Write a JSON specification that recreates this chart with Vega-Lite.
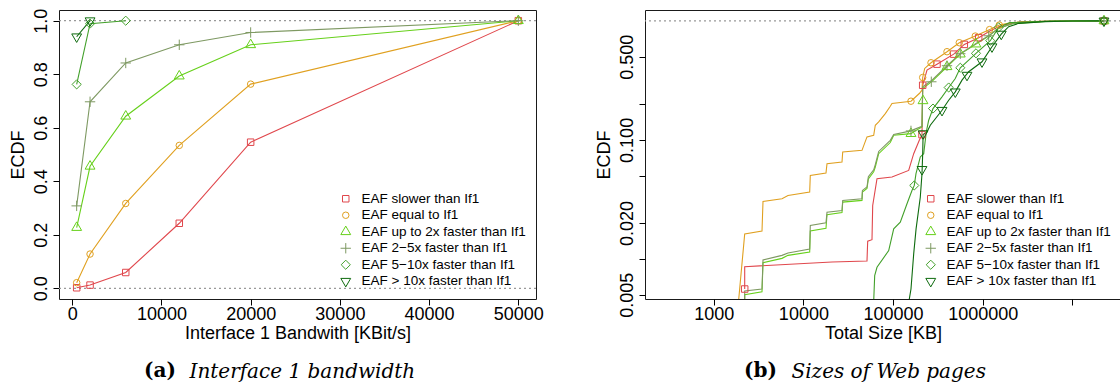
{
  "$schema": "https://vega.github.io/schema/vega-lite/v6.json",
  "background": "white",
  "padding": {"left": 8, "top": 7, "right": 0, "bottom": 0},
  "datasets": {
    "bw": [
      {"s": "EAF slower than If1", "x": 500, "y": 0.002},
      {"s": "EAF slower than If1", "x": 2000, "y": 0.012},
      {"s": "EAF slower than If1", "x": 6000, "y": 0.059},
      {"s": "EAF slower than If1", "x": 12000, "y": 0.243},
      {"s": "EAF slower than If1", "x": 20000, "y": 0.546},
      {"s": "EAF slower than If1", "x": 50000, "y": 1.0},
      {"s": "EAF equal to If1", "x": 500, "y": 0.021},
      {"s": "EAF equal to If1", "x": 2000, "y": 0.128},
      {"s": "EAF equal to If1", "x": 6000, "y": 0.317},
      {"s": "EAF equal to If1", "x": 12000, "y": 0.534},
      {"s": "EAF equal to If1", "x": 20000, "y": 0.763},
      {"s": "EAF equal to If1", "x": 50000, "y": 1.0},
      {"s": "EAF up to 2x faster than If1", "x": 500, "y": 0.227},
      {"s": "EAF up to 2x faster than If1", "x": 2000, "y": 0.456},
      {"s": "EAF up to 2x faster than If1", "x": 6000, "y": 0.643},
      {"s": "EAF up to 2x faster than If1", "x": 12000, "y": 0.793},
      {"s": "EAF up to 2x faster than If1", "x": 20000, "y": 0.91},
      {"s": "EAF up to 2x faster than If1", "x": 50000, "y": 1.0},
      {"s": "EAF 2−5x faster than If1", "x": 500, "y": 0.308},
      {"s": "EAF 2−5x faster than If1", "x": 2000, "y": 0.697},
      {"s": "EAF 2−5x faster than If1", "x": 6000, "y": 0.842},
      {"s": "EAF 2−5x faster than If1", "x": 12000, "y": 0.91},
      {"s": "EAF 2−5x faster than If1", "x": 20000, "y": 0.956},
      {"s": "EAF 2−5x faster than If1", "x": 50000, "y": 1.0},
      {"s": "EAF 5−10x faster than If1", "x": 500, "y": 0.762},
      {"s": "EAF 5−10x faster than If1", "x": 2000, "y": 0.989},
      {"s": "EAF 5−10x faster than If1", "x": 6000, "y": 1.0},
      {"s": "EAF > 10x faster than If1", "x": 500, "y": 0.94},
      {"s": "EAF > 10x faster than If1", "x": 2000, "y": 1.0}
    ],
    "web": [
      {"s": "EAF slower than If1", "x": 2216, "y": 0.00558},
      {"s": "EAF slower than If1", "x": 2216, "y": 0.0086},
      {"s": "EAF slower than If1", "x": 20840, "y": 0.0094},
      {"s": "EAF slower than If1", "x": 51170, "y": 0.0096},
      {"s": "EAF slower than If1", "x": 52100, "y": 0.0141},
      {"s": "EAF slower than If1", "x": 58190, "y": 0.0145},
      {"s": "EAF slower than If1", "x": 59240, "y": 0.0281},
      {"s": "EAF slower than If1", "x": 66150, "y": 0.0472},
      {"s": "EAF slower than If1", "x": 97210, "y": 0.0488},
      {"s": "EAF slower than If1", "x": 149200, "y": 0.0554},
      {"s": "EAF slower than If1", "x": 169700, "y": 0.0766},
      {"s": "EAF slower than If1", "x": 196000, "y": 0.0992},
      {"s": "EAF slower than If1", "x": 210000, "y": 0.1107},
      {"s": "EAF slower than If1", "x": 213800, "y": 0.288},
      {"s": "EAF slower than If1", "x": 238800, "y": 0.3856},
      {"s": "EAF slower than If1", "x": 308600, "y": 0.433},
      {"s": "EAF slower than If1", "x": 473800, "y": 0.5257},
      {"s": "EAF slower than If1", "x": 622100, "y": 0.6348},
      {"s": "EAF slower than If1", "x": 900300, "y": 0.7228},
      {"s": "EAF slower than If1", "x": 1212000, "y": 0.828},
      {"s": "EAF slower than If1", "x": 1637000, "y": 0.92},
      {"s": "EAF slower than If1", "x": 2736000, "y": 0.985},
      {"s": "EAF slower than If1", "x": 7636000, "y": 0.999},
      {"s": "EAF slower than If1", "x": 22450000, "y": 1.0},
      {"s": "EAF equal to If1", "x": 1870, "y": 0.004},
      {"s": "EAF equal to If1", "x": 2216, "y": 0.0162},
      {"s": "EAF equal to If1", "x": 3455, "y": 0.0171},
      {"s": "EAF equal to If1", "x": 3545, "y": 0.0304},
      {"s": "EAF equal to If1", "x": 5772, "y": 0.032},
      {"s": "EAF equal to If1", "x": 6734, "y": 0.0341},
      {"s": "EAF equal to If1", "x": 11752, "y": 0.0364},
      {"s": "EAF equal to If1", "x": 11936, "y": 0.0503},
      {"s": "EAF equal to If1", "x": 17858, "y": 0.0527},
      {"s": "EAF equal to If1", "x": 18330, "y": 0.0631},
      {"s": "EAF equal to If1", "x": 26940, "y": 0.0652},
      {"s": "EAF equal to If1", "x": 27430, "y": 0.0792},
      {"s": "EAF equal to If1", "x": 45010, "y": 0.0817},
      {"s": "EAF equal to If1", "x": 51170, "y": 0.1059},
      {"s": "EAF equal to If1", "x": 60760, "y": 0.1093},
      {"s": "EAF equal to If1", "x": 63330, "y": 0.1327},
      {"s": "EAF equal to If1", "x": 69090, "y": 0.1416},
      {"s": "EAF equal to If1", "x": 81880, "y": 0.1664},
      {"s": "EAF equal to If1", "x": 93070, "y": 0.1918},
      {"s": "EAF equal to If1", "x": 97210, "y": 0.2021},
      {"s": "EAF equal to If1", "x": 158300, "y": 0.2114},
      {"s": "EAF equal to If1", "x": 196000, "y": 0.2454},
      {"s": "EAF equal to If1", "x": 210000, "y": 0.2616},
      {"s": "EAF equal to If1", "x": 213800, "y": 0.3346},
      {"s": "EAF equal to If1", "x": 225100, "y": 0.3985},
      {"s": "EAF equal to If1", "x": 264600, "y": 0.4449},
      {"s": "EAF equal to If1", "x": 399000, "y": 0.551},
      {"s": "EAF equal to If1", "x": 547000, "y": 0.6558},
      {"s": "EAF equal to If1", "x": 824900, "y": 0.7455},
      {"s": "EAF equal to If1", "x": 1212000, "y": 0.849},
      {"s": "EAF equal to If1", "x": 1527000, "y": 0.9231},
      {"s": "EAF equal to If1", "x": 2116000, "y": 0.967},
      {"s": "EAF equal to If1", "x": 3249000, "y": 0.986},
      {"s": "EAF equal to If1", "x": 7636000, "y": 0.998},
      {"s": "EAF equal to If1", "x": 22450000, "y": 1.0},
      {"s": "EAF up to 2x faster than If1", "x": 2216, "y": 0.004},
      {"s": "EAF up to 2x faster than If1", "x": 2216, "y": 0.005},
      {"s": "EAF up to 2x faster than If1", "x": 3455, "y": 0.0053},
      {"s": "EAF up to 2x faster than If1", "x": 3545, "y": 0.0093},
      {"s": "EAF up to 2x faster than If1", "x": 5772, "y": 0.0101},
      {"s": "EAF up to 2x faster than If1", "x": 6734, "y": 0.0107},
      {"s": "EAF up to 2x faster than If1", "x": 11752, "y": 0.0114},
      {"s": "EAF up to 2x faster than If1", "x": 11936, "y": 0.0172},
      {"s": "EAF up to 2x faster than If1", "x": 17858, "y": 0.0181},
      {"s": "EAF up to 2x faster than If1", "x": 18330, "y": 0.0235},
      {"s": "EAF up to 2x faster than If1", "x": 26940, "y": 0.0245},
      {"s": "EAF up to 2x faster than If1", "x": 27430, "y": 0.03},
      {"s": "EAF up to 2x faster than If1", "x": 45010, "y": 0.031},
      {"s": "EAF up to 2x faster than If1", "x": 45500, "y": 0.0365},
      {"s": "EAF up to 2x faster than If1", "x": 51170, "y": 0.039},
      {"s": "EAF up to 2x faster than If1", "x": 53000, "y": 0.047},
      {"s": "EAF up to 2x faster than If1", "x": 60760, "y": 0.054},
      {"s": "EAF up to 2x faster than If1", "x": 63330, "y": 0.0592},
      {"s": "EAF up to 2x faster than If1", "x": 69090, "y": 0.0766},
      {"s": "EAF up to 2x faster than If1", "x": 93070, "y": 0.095},
      {"s": "EAF up to 2x faster than If1", "x": 101600, "y": 0.1093},
      {"s": "EAF up to 2x faster than If1", "x": 158300, "y": 0.1129},
      {"s": "EAF up to 2x faster than If1", "x": 169700, "y": 0.117},
      {"s": "EAF up to 2x faster than If1", "x": 210000, "y": 0.1286},
      {"s": "EAF up to 2x faster than If1", "x": 213800, "y": 0.27},
      {"s": "EAF up to 2x faster than If1", "x": 271500, "y": 0.31},
      {"s": "EAF up to 2x faster than If1", "x": 399000, "y": 0.4118},
      {"s": "EAF up to 2x faster than If1", "x": 561400, "y": 0.5257},
      {"s": "EAF up to 2x faster than If1", "x": 839900, "y": 0.6384},
      {"s": "EAF up to 2x faster than If1", "x": 1164000, "y": 0.7455},
      {"s": "EAF up to 2x faster than If1", "x": 1504000, "y": 0.866},
      {"s": "EAF up to 2x faster than If1", "x": 2200000, "y": 0.95},
      {"s": "EAF up to 2x faster than If1", "x": 5000000, "y": 0.99},
      {"s": "EAF up to 2x faster than If1", "x": 22450000, "y": 1.0},
      {"s": "EAF 2−5x faster than If1", "x": 2216, "y": 0.004},
      {"s": "EAF 2−5x faster than If1", "x": 2216, "y": 0.00537},
      {"s": "EAF 2−5x faster than If1", "x": 3455, "y": 0.00558},
      {"s": "EAF 2−5x faster than If1", "x": 3545, "y": 0.0098},
      {"s": "EAF 2−5x faster than If1", "x": 5772, "y": 0.0107},
      {"s": "EAF 2−5x faster than If1", "x": 6734, "y": 0.0112},
      {"s": "EAF 2−5x faster than If1", "x": 11752, "y": 0.0121},
      {"s": "EAF 2−5x faster than If1", "x": 11936, "y": 0.0191},
      {"s": "EAF 2−5x faster than If1", "x": 17858, "y": 0.0201},
      {"s": "EAF 2−5x faster than If1", "x": 18330, "y": 0.0247},
      {"s": "EAF 2−5x faster than If1", "x": 26940, "y": 0.0255},
      {"s": "EAF 2−5x faster than If1", "x": 27430, "y": 0.031},
      {"s": "EAF 2−5x faster than If1", "x": 45010, "y": 0.032},
      {"s": "EAF 2−5x faster than If1", "x": 45500, "y": 0.0376},
      {"s": "EAF 2−5x faster than If1", "x": 51170, "y": 0.0402},
      {"s": "EAF 2−5x faster than If1", "x": 53000, "y": 0.049},
      {"s": "EAF 2−5x faster than If1", "x": 60760, "y": 0.056},
      {"s": "EAF 2−5x faster than If1", "x": 63330, "y": 0.062},
      {"s": "EAF 2−5x faster than If1", "x": 69090, "y": 0.08},
      {"s": "EAF 2−5x faster than If1", "x": 93070, "y": 0.0992},
      {"s": "EAF 2−5x faster than If1", "x": 101600, "y": 0.111},
      {"s": "EAF 2−5x faster than If1", "x": 158300, "y": 0.119},
      {"s": "EAF 2−5x faster than If1", "x": 169700, "y": 0.122},
      {"s": "EAF 2−5x faster than If1", "x": 210000, "y": 0.13},
      {"s": "EAF 2−5x faster than If1", "x": 213800, "y": 0.28},
      {"s": "EAF 2−5x faster than If1", "x": 271500, "y": 0.3176},
      {"s": "EAF 2−5x faster than If1", "x": 399000, "y": 0.42},
      {"s": "EAF 2−5x faster than If1", "x": 561400, "y": 0.53},
      {"s": "EAF 2−5x faster than If1", "x": 839900, "y": 0.6471},
      {"s": "EAF 2−5x faster than If1", "x": 1164000, "y": 0.75},
      {"s": "EAF 2−5x faster than If1", "x": 1504000, "y": 0.87},
      {"s": "EAF 2−5x faster than If1", "x": 2200000, "y": 0.955},
      {"s": "EAF 2−5x faster than If1", "x": 5000000, "y": 0.992},
      {"s": "EAF 2−5x faster than If1", "x": 22450000, "y": 1.0},
      {"s": "EAF 5−10x faster than If1", "x": 60500, "y": 0.004},
      {"s": "EAF 5−10x faster than If1", "x": 62350, "y": 0.00723},
      {"s": "EAF 5−10x faster than If1", "x": 66150, "y": 0.0085},
      {"s": "EAF 5−10x faster than If1", "x": 89340, "y": 0.01174},
      {"s": "EAF 5−10x faster than If1", "x": 101600, "y": 0.01788},
      {"s": "EAF 5−10x faster than If1", "x": 120300, "y": 0.02037},
      {"s": "EAF 5−10x faster than If1", "x": 142900, "y": 0.02904},
      {"s": "EAF 5−10x faster than If1", "x": 162400, "y": 0.03759},
      {"s": "EAF 5−10x faster than If1", "x": 172300, "y": 0.04143},
      {"s": "EAF 5−10x faster than If1", "x": 180000, "y": 0.05196},
      {"s": "EAF 5−10x faster than If1", "x": 201000, "y": 0.07187},
      {"s": "EAF 5−10x faster than If1", "x": 219400, "y": 0.0766},
      {"s": "EAF 5−10x faster than If1", "x": 234500, "y": 0.1167},
      {"s": "EAF 5−10x faster than If1", "x": 249400, "y": 0.1462},
      {"s": "EAF 5−10x faster than If1", "x": 278600, "y": 0.1834},
      {"s": "EAF 5−10x faster than If1", "x": 351000, "y": 0.2301},
      {"s": "EAF 5−10x faster than If1", "x": 416700, "y": 0.2756},
      {"s": "EAF 5−10x faster than If1", "x": 493600, "y": 0.3282},
      {"s": "EAF 5−10x faster than If1", "x": 561400, "y": 0.404},
      {"s": "EAF 5−10x faster than If1", "x": 696300, "y": 0.4681},
      {"s": "EAF 5−10x faster than If1", "x": 839900, "y": 0.534},
      {"s": "EAF 5−10x faster than If1", "x": 1212000, "y": 0.6821},
      {"s": "EAF 5−10x faster than If1", "x": 1504000, "y": 0.8826},
      {"s": "EAF 5−10x faster than If1", "x": 2000000, "y": 0.967},
      {"s": "EAF 5−10x faster than If1", "x": 6000000, "y": 0.997},
      {"s": "EAF 5−10x faster than If1", "x": 22450000, "y": 1.0},
      {"s": "EAF > 10x faster than If1", "x": 151000, "y": 0.004},
      {"s": "EAF > 10x faster than If1", "x": 151600, "y": 0.0046},
      {"s": "EAF > 10x faster than If1", "x": 158300, "y": 0.00558},
      {"s": "EAF > 10x faster than If1", "x": 169700, "y": 0.01101},
      {"s": "EAF > 10x faster than If1", "x": 180400, "y": 0.01788},
      {"s": "EAF > 10x faster than If1", "x": 201000, "y": 0.03293},
      {"s": "EAF > 10x faster than If1", "x": 210000, "y": 0.052},
      {"s": "EAF > 10x faster than If1", "x": 213800, "y": 0.0766},
      {"s": "EAF > 10x faster than If1", "x": 216000, "y": 0.1107},
      {"s": "EAF > 10x faster than If1", "x": 238800, "y": 0.1167},
      {"s": "EAF > 10x faster than If1", "x": 259800, "y": 0.1327},
      {"s": "EAF > 10x faster than If1", "x": 351000, "y": 0.1774},
      {"s": "EAF > 10x faster than If1", "x": 416700, "y": 0.2155},
      {"s": "EAF > 10x faster than If1", "x": 493600, "y": 0.2535},
      {"s": "EAF > 10x faster than If1", "x": 586400, "y": 0.3176},
      {"s": "EAF > 10x faster than If1", "x": 696300, "y": 0.3737},
      {"s": "EAF > 10x faster than If1", "x": 979900, "y": 0.4537},
      {"s": "EAF > 10x faster than If1", "x": 1266000, "y": 0.6069},
      {"s": "EAF > 10x faster than If1", "x": 1607000, "y": 0.7752},
      {"s": "EAF > 10x faster than If1", "x": 1944000, "y": 0.8948},
      {"s": "EAF > 10x faster than If1", "x": 2513000, "y": 0.9539},
      {"s": "EAF > 10x faster than If1", "x": 4937000, "y": 0.986},
      {"s": "EAF > 10x faster than If1", "x": 10000000, "y": 0.998},
      {"s": "EAF > 10x faster than If1", "x": 22450000, "y": 1.0}
    ],
    "webpts": [
      {"s": "EAF slower than If1", "x": 2216, "y": 0.00558},
      {"s": "EAF slower than If1", "x": 210000, "y": 0.1107},
      {"s": "EAF slower than If1", "x": 213800, "y": 0.288},
      {"s": "EAF slower than If1", "x": 308600, "y": 0.433},
      {"s": "EAF slower than If1", "x": 473800, "y": 0.5257},
      {"s": "EAF slower than If1", "x": 622100, "y": 0.6348},
      {"s": "EAF slower than If1", "x": 900300, "y": 0.7228},
      {"s": "EAF slower than If1", "x": 22450000, "y": 1.0},
      {"s": "EAF equal to If1", "x": 158300, "y": 0.2114},
      {"s": "EAF equal to If1", "x": 213800, "y": 0.3346},
      {"s": "EAF equal to If1", "x": 264600, "y": 0.4449},
      {"s": "EAF equal to If1", "x": 399000, "y": 0.551},
      {"s": "EAF equal to If1", "x": 547000, "y": 0.6558},
      {"s": "EAF equal to If1", "x": 824900, "y": 0.7455},
      {"s": "EAF equal to If1", "x": 1190000, "y": 0.845},
      {"s": "EAF equal to If1", "x": 1527000, "y": 0.9231},
      {"s": "EAF equal to If1", "x": 22450000, "y": 1.0},
      {"s": "EAF up to 2x faster than If1", "x": 158300, "y": 0.1129},
      {"s": "EAF up to 2x faster than If1", "x": 215400, "y": 0.213},
      {"s": "EAF up to 2x faster than If1", "x": 399000, "y": 0.4118},
      {"s": "EAF up to 2x faster than If1", "x": 561400, "y": 0.5257},
      {"s": "EAF up to 2x faster than If1", "x": 839900, "y": 0.6384},
      {"s": "EAF up to 2x faster than If1", "x": 22450000, "y": 1.0},
      {"s": "EAF 2−5x faster than If1", "x": 158300, "y": 0.119},
      {"s": "EAF 2−5x faster than If1", "x": 266700, "y": 0.3079},
      {"s": "EAF 2−5x faster than If1", "x": 399000, "y": 0.42},
      {"s": "EAF 2−5x faster than If1", "x": 561400, "y": 0.53},
      {"s": "EAF 2−5x faster than If1", "x": 1164000, "y": 0.75},
      {"s": "EAF 2−5x faster than If1", "x": 22450000, "y": 1.0},
      {"s": "EAF 5−10x faster than If1", "x": 172300, "y": 0.0414},
      {"s": "EAF 5−10x faster than If1", "x": 278600, "y": 0.1834},
      {"s": "EAF 5−10x faster than If1", "x": 416700, "y": 0.2756},
      {"s": "EAF 5−10x faster than If1", "x": 561400, "y": 0.404},
      {"s": "EAF 5−10x faster than If1", "x": 839900, "y": 0.534},
      {"s": "EAF 5−10x faster than If1", "x": 1212000, "y": 0.6821},
      {"s": "EAF 5−10x faster than If1", "x": 1504000, "y": 0.8826},
      {"s": "EAF 5−10x faster than If1", "x": 22450000, "y": 1.0},
      {"s": "EAF > 10x faster than If1", "x": 210000, "y": 0.0565},
      {"s": "EAF > 10x faster than If1", "x": 216000, "y": 0.1129},
      {"s": "EAF > 10x faster than If1", "x": 351000, "y": 0.1774},
      {"s": "EAF > 10x faster than If1", "x": 493600, "y": 0.2535},
      {"s": "EAF > 10x faster than If1", "x": 666700, "y": 0.35},
      {"s": "EAF > 10x faster than If1", "x": 979900, "y": 0.4537},
      {"s": "EAF > 10x faster than If1", "x": 1266000, "y": 0.6069},
      {"s": "EAF > 10x faster than If1", "x": 1607000, "y": 0.7752},
      {"s": "EAF > 10x faster than If1", "x": 22450000, "y": 1.0}
    ]
  },
  "resolve": {
    "scale": {"x": "independent", "y": "independent", "color": "independent", "shape": "independent"},
    "axis": {"x": "independent", "y": "independent"},
    "legend": {"color": "independent", "shape": "independent"}
  },
  "hconcat": [
    {
      "title": {"text": "Interface 1 bandwidth", "orient": "bottom", "anchor": "start", "frame": "bounds", "dx": 181, "dy": -20, "offset": 0, "font": "DejaVu Serif", "fontSize": 20, "fontStyle": "italic", "fontWeight": "normal", "color": "black"},
      "resolve": {
        "scale": {"x": "independent", "y": "independent", "color": "independent", "shape": "independent"},
        "axis": {"x": "independent", "y": "independent"},
        "legend": {"color": "independent", "shape": "independent"}
      },
      "vconcat": [
        {
          "width": 477,
          "height": 289,
          "title": {"text": "(a)", "orient": "bottom", "anchor": "start", "frame": "bounds", "dx": 135, "offset": 19, "font": "DejaVu Serif", "fontSize": 20, "fontWeight": "bold", "color": "black"},
          "layer": [
            {
              "data": {"values": [{"y": 0}, {"y": 1}]},
              "mark": {"type": "rule", "strokeDash": [2, 3], "color": "#999999", "strokeWidth": 1.2},
              "encoding": {
                "y": {"field": "y", "type": "quantitative", "scale": {"domain": [-0.04, 1.04], "nice": false, "zero": false}, "axis": {"title": "ECDF", "values": [0, 0.2, 0.4, 0.6, 0.8, 1], "format": ".1f"}}
              }
            },
            {
              "data": {"name": "bw"},
              "mark": {"type": "line", "strokeWidth": 1.1},
              "encoding": {
                "x": {"field": "x", "type": "quantitative", "scale": {"domain": [-1480, 51980], "nice": false, "zero": false}, "axis": {"title": "Interface 1 Bandwith [KBit/s]", "values": [0, 10000, 20000, 30000, 40000, 50000], "format": "d"}},
                "y": {"field": "y", "type": "quantitative", "scale": {"domain": [-0.04, 1.04], "nice": false, "zero": false}, "axis": {"title": "ECDF", "values": [0, 0.2, 0.4, 0.6, 0.8, 1], "format": ".1f"}},
                "color": {"field": "s", "type": "nominal", "legend": {"title": null},
                  "scale": {"domain": ["EAF slower than If1", "EAF equal to If1", "EAF up to 2x faster than If1", "EAF 2−5x faster than If1", "EAF 5−10x faster than If1", "EAF > 10x faster than If1"],
                            "range": ["#E0474C", "#E0A020", "#66D01A", "#7E9962", "#42A02A", "#0E6B0E"]}}
              }
            },
            {
              "data": {"name": "bw"},
              "mark": {"type": "point", "filled": false, "size": 42, "strokeWidth": 1, "opacity": 1},
              "encoding": {
                "x": {"field": "x", "type": "quantitative", "scale": {"domain": [-1480, 51980], "nice": false, "zero": false}, "axis": {"title": "Interface 1 Bandwith [KBit/s]", "values": [0, 10000, 20000, 30000, 40000, 50000], "format": "d"}},
                "y": {"field": "y", "type": "quantitative", "scale": {"domain": [-0.04, 1.04], "nice": false, "zero": false}, "axis": {"title": "ECDF", "values": [0, 0.2, 0.4, 0.6, 0.8, 1], "format": ".1f"}},
                "color": {"field": "s", "type": "nominal", "legend": {"title": null},
                  "scale": {"domain": ["EAF slower than If1", "EAF equal to If1", "EAF up to 2x faster than If1", "EAF 2−5x faster than If1", "EAF 5−10x faster than If1", "EAF > 10x faster than If1"],
                            "range": ["#E0474C", "#E0A020", "#66D01A", "#7E9962", "#42A02A", "#0E6B0E"]}},
                "shape": {"field": "s", "type": "nominal", "legend": {"title": null},
                  "scale": {"domain": ["EAF slower than If1", "EAF equal to If1", "EAF up to 2x faster than If1", "EAF 2−5x faster than If1", "EAF 5−10x faster than If1", "EAF > 10x faster than If1"],
                            "range": ["square", "circle", "M0,-1.75L1.52,0.88L-1.52,0.88Z", "M-1.6,0H1.6M0,-1.6V1.6", "M-1.41,0L0,-1.41L1.41,0L0,1.41Z", "M0,1.75L1.52,-0.88L-1.52,-0.88Z"]}}
              }
            }
          ]
        }
      ]
    },
    {
      "title": {"text": "Sizes of Web pages", "orient": "bottom", "anchor": "start", "frame": "bounds", "dx": 197, "dy": -20, "offset": 0, "font": "DejaVu Serif", "fontSize": 20, "fontStyle": "italic", "fontWeight": "normal", "color": "black"},
      "resolve": {
        "scale": {"x": "independent", "y": "independent", "color": "independent", "shape": "independent"},
        "axis": {"x": "independent", "y": "independent"},
        "legend": {"color": "independent", "shape": "independent"}
      },
      "vconcat": [
        {
          "width": 476,
          "height": 289,
          "title": {"text": "(b)", "orient": "bottom", "anchor": "start", "frame": "bounds", "dx": 149, "offset": 19, "font": "DejaVu Serif", "fontSize": 20, "fontWeight": "bold", "color": "black"},
          "layer": [
            {
              "data": {"values": [{"y": 1}]},
              "mark": {"type": "rule", "strokeDash": [2, 3], "color": "#999999", "strokeWidth": 1.2},
              "encoding": {
                "y": {"field": "y", "type": "quantitative", "scale": {"type": "log", "domain": [0.0046, 1.235], "nice": false}, "axis": {"title": "ECDF", "values": [0.005, 0.01, 0.02, 0.05, 0.1, 0.2, 0.5], "labelExpr": "(datum.value == 0.005 || datum.value == 0.02 || datum.value == 0.1 || datum.value == 0.5) ? format(datum.value, '.3f') : ''"}}
              }
            },
            {
              "data": {"name": "web"},
              "mark": {"type": "line", "strokeWidth": 1.1, "clip": true},
              "encoding": {
                "x": {"field": "x", "type": "quantitative", "scale": {"type": "log", "domain": [171.4, 34750000], "nice": false}, "axis": {"title": "Total Size [KB]", "values": [1000, 10000, 100000, 1000000, 10000000], "labelExpr": "datum.value < 5000000 ? format(datum.value, 'd') : ''"}},
                "y": {"field": "y", "type": "quantitative", "scale": {"type": "log", "domain": [0.0046, 1.235], "nice": false}, "axis": {"title": "ECDF", "values": [0.005, 0.01, 0.02, 0.05, 0.1, 0.2, 0.5], "labelExpr": "(datum.value == 0.005 || datum.value == 0.02 || datum.value == 0.1 || datum.value == 0.5) ? format(datum.value, '.3f') : ''"}},
                "order": {"field": "y", "type": "quantitative"},
                "color": {"field": "s", "type": "nominal", "legend": {"title": null},
                  "scale": {"domain": ["EAF slower than If1", "EAF equal to If1", "EAF up to 2x faster than If1", "EAF 2−5x faster than If1", "EAF 5−10x faster than If1", "EAF > 10x faster than If1"],
                            "range": ["#E0474C", "#E0A020", "#66D01A", "#7E9962", "#42A02A", "#0E6B0E"]}}
              }
            },
            {
              "data": {"name": "webpts"},
              "mark": {"type": "point", "filled": false, "size": 42, "strokeWidth": 1, "opacity": 1, "clip": true},
              "encoding": {
                "x": {"field": "x", "type": "quantitative", "scale": {"type": "log", "domain": [171.4, 34750000], "nice": false}, "axis": {"title": "Total Size [KB]", "values": [1000, 10000, 100000, 1000000, 10000000], "labelExpr": "datum.value < 5000000 ? format(datum.value, 'd') : ''"}},
                "y": {"field": "y", "type": "quantitative", "scale": {"type": "log", "domain": [0.0046, 1.235], "nice": false}, "axis": {"title": "ECDF", "values": [0.005, 0.01, 0.02, 0.05, 0.1, 0.2, 0.5], "labelExpr": "(datum.value == 0.005 || datum.value == 0.02 || datum.value == 0.1 || datum.value == 0.5) ? format(datum.value, '.3f') : ''"}},
                "color": {"field": "s", "type": "nominal", "legend": {"title": null},
                  "scale": {"domain": ["EAF slower than If1", "EAF equal to If1", "EAF up to 2x faster than If1", "EAF 2−5x faster than If1", "EAF 5−10x faster than If1", "EAF > 10x faster than If1"],
                            "range": ["#E0474C", "#E0A020", "#66D01A", "#7E9962", "#42A02A", "#0E6B0E"]}},
                "shape": {"field": "s", "type": "nominal", "legend": {"title": null},
                  "scale": {"domain": ["EAF slower than If1", "EAF equal to If1", "EAF up to 2x faster than If1", "EAF 2−5x faster than If1", "EAF 5−10x faster than If1", "EAF > 10x faster than If1"],
                            "range": ["square", "circle", "M0,-1.75L1.52,0.88L-1.52,0.88Z", "M-1.6,0H1.6M0,-1.6V1.6", "M-1.41,0L0,-1.41L1.41,0L0,1.41Z", "M0,1.75L1.52,-0.88L-1.52,-0.88Z"]}}
              }
            }
          ]
        }
      ]
    }
  ],
  "config": {
    "font": "Liberation Sans",
    "concat": {"spacing": 50},
    "view": {"stroke": "#1a1a1a", "strokeWidth": 1},
    "axis": {"labelFont": "Liberation Sans", "labelFontSize": 18, "labelColor": "#000000", "titleFont": "Liberation Sans", "titleFontSize": 18, "titleFontWeight": "normal", "titleColor": "#000000", "tickColor": "#000000", "tickSize": 6, "tickWidth": 1, "domain": false, "grid": false, "labelOverlap": false, "labelFlush": false},
    "axisLeft": {"labelAngle": -90, "labelAlign": "center", "labelBaseline": "bottom", "labelPadding": 3, "titlePadding": 5, "titleAngle": -90, "titleBaseline": "bottom"},
    "axisBottom": {"labelPadding": 0, "titlePadding": 1},
    "legend": {"orient": "bottom-right", "offset": 10, "padding": 0, "labelFont": "Liberation Sans", "labelFontSize": 13.5, "labelColor": "#000000", "labelLimit": 0, "symbolSize": 42, "symbolStrokeWidth": 1, "rowPadding": 1.5, "labelOffset": 9}
  }
}
